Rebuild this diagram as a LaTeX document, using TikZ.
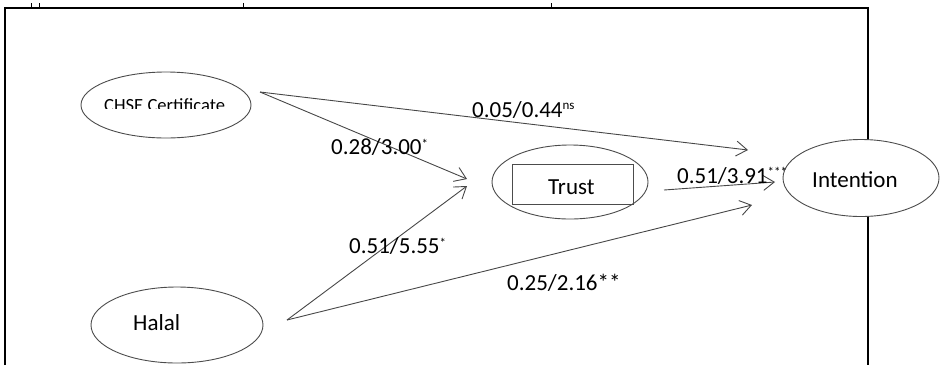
\documentclass[tikz,border=0pt]{standalone}
\usepackage{fontspec}
\setmainfont{Carlito}
\usetikzlibrary{shapes.geometric,arrows.meta}

% small raised marks after a coefficient
\newcommand{\sigmark}[2][6]{\raisebox{#1pt}{\fontsize{13}{13}\selectfont #2}}

\tikzset{
  construct/.style={ellipse, draw=black!70, line width=0.9pt, fill=white, inner sep=0pt},
  boxed/.style={rectangle, draw=black!70, line width=0.9pt, inner sep=0pt},
  path link/.style={draw=black!72, line width=0.9pt,
    -{Straight Barb[length=11pt,width=15pt,line width=0.9pt]}},
  coef/.style={inner sep=0pt, anchor=base west, font=\fontsize{23}{27}\selectfont},
  constructtext/.style={inner sep=0pt, anchor=base west, font=\fontsize{23}{27}\selectfont},
  frame line/.style={line width=1.6pt, black},
}

\begin{document}
\begin{tikzpicture}[x=1pt, y=-1pt]
\useasboundingbox (0,0) rectangle (941,365);

% outer frame (open at the bottom) and the small marks above it
\draw[frame line] (5,365) -- (5,8) -- (868,8) -- (868,365);
\draw[line width=1pt] (31,3) -- (31,7) (39,3) -- (39,7) (243,3) -- (243,7) (551,3) -- (551,7);

% constructs
\node[construct, minimum width=170pt, minimum height=66pt] (chse) at (166,105) {};
\node[construct, minimum width=172pt, minimum height=76pt] (halal) at (177,325) {};
\node[construct, minimum width=156pt, minimum height=74pt] (trust) at (570,182) {};
\node[boxed, minimum width=121pt, minimum height=40pt] (trustbox) at (572.5,184) {};
\node[construct, minimum width=156pt, minimum height=77pt] (intention) at (861,178) {};

% construct names
\begin{scope}
  \clip (90,80) rectangle (240,108.5);
  \node[inner sep=0pt, anchor=base west, font=\fontsize{18.6}{22}\selectfont] (chsetext) at (104,111) {CHSE Certificate};
\end{scope}
\node[constructtext] (halaltext) at (133,330) {Halal};
\node[constructtext] (trusttext) at (548,194) {Trust};
\node[constructtext] (intentiontext) at (812,187) {Intention};

% start and end points of the paths
\coordinate (chse-out) at (260,92);
\coordinate (halal-out) at (287,320);
\coordinate (trust-out) at (664,190);
\coordinate (trust-in-a) at (467,179);
\coordinate (trust-in-b) at (467,186);
\coordinate (int-in-a) at (748,150);
\coordinate (int-in-b) at (775,182);
\coordinate (int-in-c) at (752,205);

% structural paths
\draw[path link] (chse-out) -- (int-in-a);
\draw[path link] (chse-out) -- (trust-in-a);
\draw[path link] (halal-out) -- (trust-in-b);
\draw[path link] (halal-out) -- (int-in-c);
\draw[path link] (trust-out) -- (int-in-b);

% path coefficients
\node[coef] (c1) at (472,117) {0.05/0.44\sigmark[8]{ns}};
\node[coef] (c2) at (331,154) {0.28/3.00\sigmark{*}};
\node[coef] (c3) at (349,253) {0.51/5.55\sigmark{*}};
\node[coef] (c4) at (507,290) {0.25/2.16**};
\node[coef] (c5) at (677,183) {0.51/3.91\sigmark[7]{***}};
\end{tikzpicture}
\end{document}
